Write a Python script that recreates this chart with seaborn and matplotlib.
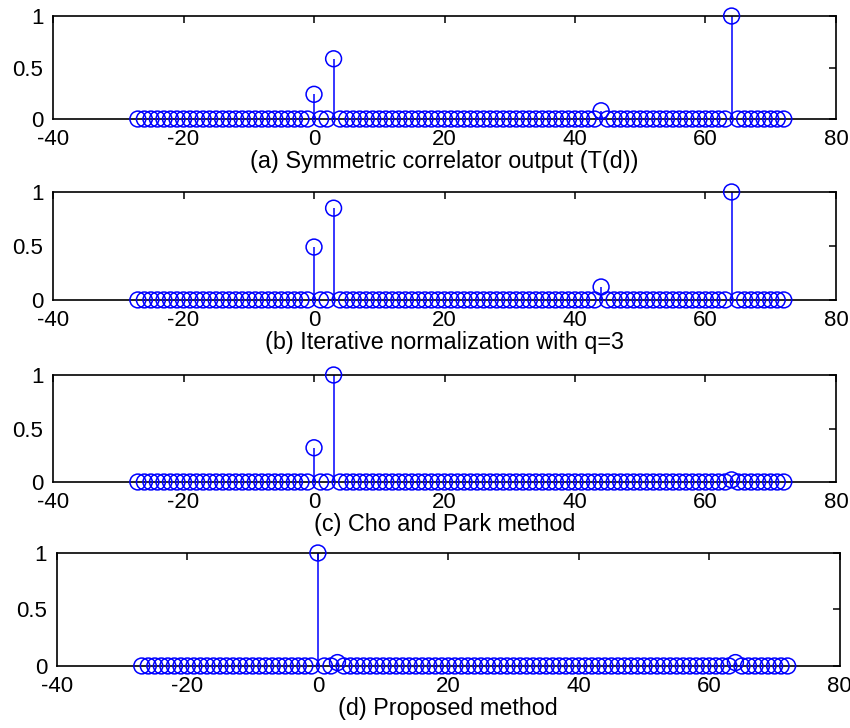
"""
Stem plots of the four timing metrics (MATLAB-style figure, redrawn with seaborn).
"""
import numpy as np
import pandas as pd
import matplotlib
matplotlib.use('Agg')
import matplotlib.pyplot as plt
import seaborn as sns

# ── Data ──────────────────────────────────────────────────────────────────────
# integer lags d shown in every panel
LAGS = list(range(-27, 73))

# lags where the metric is visibly above zero; every other lag sits at 0
PEAK_LAGS = [0, 3, 44, 64]

VALUES_A = [0.24, 0.585, 0.08, 1.0]   # (a) symmetric correlator
VALUES_B = [0.49, 0.85, 0.12, 1.0]    # (b) iterative normalization, q=3
VALUES_C = [0.32, 1.0, 0.0, 0.02]     # (c) Cho and Park
VALUES_D = [1.0, 0.03, 0.0, 0.03]     # (d) proposed

TITLES = [
    '(a) Symmetric correlator output (T(d))',
    '(b) Iterative normalization with q=3',
    '(c) Cho and Park method',
    '(d) Proposed method',
]

X_TICKS = [-40, -20, 0, 20, 40, 60, 80]
Y_TICKS = [0, 0.5, 1]
Y_TICKLABELS = ['0', '0.5', '1']

# ── Style ─────────────────────────────────────────────────────────────────────
sns.set_style('white')
plt.rcParams['font.family'] = ['Liberation Sans', 'DejaVu Sans']
plt.rcParams['axes.unicode_minus'] = False  # MATLAB uses a plain hyphen
plt.rcParams['text.color'] = 'black'
plt.rcParams['axes.labelcolor'] = 'black'

# axes rectangles in figure fractions (left, bottom, width, height)
POSITIONS = [
    (0.0624, 0.8365, 0.9211, 0.1415),
    (0.0624, 0.5880, 0.9211, 0.1483),
    (0.0624, 0.3379, 0.9211, 0.1470),
    (0.0670, 0.0852, 0.9210, 0.1552),
]


def build_frame(peaks):
    vals = dict(zip(PEAK_LAGS, peaks))
    return pd.DataFrame({'lag': LAGS, 'value': [vals.get(d, 0.0) for d in LAGS]})


fig = plt.figure(figsize=(8.5, 7.28), dpi=100)

for pos, peaks, title in zip(POSITIONS, [VALUES_A, VALUES_B, VALUES_C, VALUES_D], TITLES):
    ax = fig.add_axes(pos)
    df = build_frame(peaks)

    # stems
    ax.vlines(df['lag'], 0, df['value'], color='#0000ff', lw=1.1, zorder=2)
    # hollow circle heads
    sns.scatterplot(data=df, x='lag', y='value', ax=ax, marker='o', s=130,
                    facecolor='none', edgecolor='#0000ff', linewidth=1.1,
                    zorder=3, clip_on=False, legend=False)

    ax.set_xlim(-40, 80)
    ax.set_ylim(0, 1)
    ax.set_xticks(X_TICKS)
    ax.set_yticks(Y_TICKS)
    ax.set_yticklabels(Y_TICKLABELS)
    ax.tick_params(direction='in', length=5, width=1.1, top=True, right=True,
                   labelsize=16, colors='black')
    ax.tick_params(axis='x', pad=7)
    ax.tick_params(axis='y', pad=7)
    for sp in ax.spines.values():
        sp.set_color('black')
        sp.set_linewidth(1.2)
    ax.set_xlabel(title, fontsize=16.8, labelpad=0, color='black')
    ax.set_ylabel('')

plt.savefig('out.png', dpi=100)
